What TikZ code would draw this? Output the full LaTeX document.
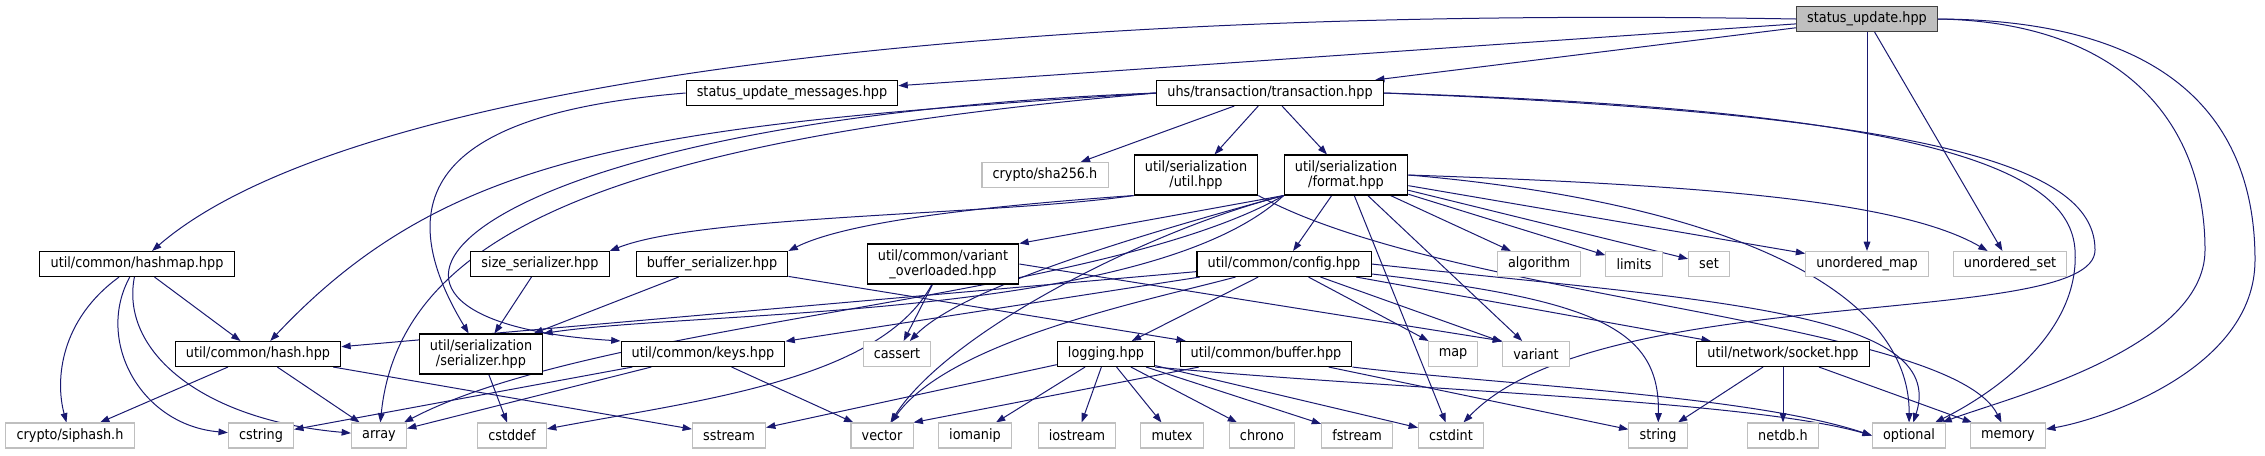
\documentclass[tikz,border=0pt]{standalone}
\usepackage{fontspec}
\setmainfont{DejaVu Sans}[FakeStretch=0.9]
\usepackage{xcolor}
\definecolor{cEdge}{HTML}{191970}
\definecolor{cMainFill}{HTML}{BFBFBF}
\definecolor{cMainDraw}{HTML}{404040}
\definecolor{cSys}{HTML}{BFBFBF}
\usepackage{tikz}
\usetikzlibrary{arrows.meta,backgrounds}
\tikzset{
  node-file/.style={draw=black,line width=0.8pt,fill=white,align=center,
    minimum height=18.75pt,inner xsep=8pt,inner ysep=2pt,
    font=\fontsize{10.7}{11.5}\selectfont},
  % 当前文件：灰底；系统头文件：浅灰边框
  node-main/.style={node-file,draw=cMainDraw,fill=cMainFill},
  node-sys/.style={node-file,draw=cSys},
  node-two/.style={minimum height=30pt},
  arrow/.style={-{Triangle[length=7pt,width=5pt]},line width=0.75pt,draw=cEdge},
}

\begin{document}
\begin{tikzpicture}[x=0.75pt,y=-0.75pt]
  \useasboundingbox (0,0) rectangle (2265,455);
  \node[node-main]          (su)       at (1867,19)    {status\_update.hpp};
  \node[node-file]          (sum)      at (792,93)     {status\_update\_messages.hpp};
  \node[node-file]          (tx)       at (1270,93)    {uhs/transaction/transaction.hpp};
  \node[node-sys]           (sha)      at (1045,175)   {crypto/sha256.h};
  \node[node-file,node-two] (sutil)    at (1196,175)   {util/serialization\\/util.hpp};
  \node[node-file,node-two] (fmt)      at (1346,175)   {util/serialization\\/format.hpp};
  \node[node-file]          (hmap)     at (137,264)    {util/common/hashmap.hpp};
  \node[node-file]          (sizes)    at (540,264)    {size\_serializer.hpp};
  \node[node-file]          (bufs)     at (712,264)    {buffer\_serializer.hpp};
  \node[node-file,node-two] (vov)      at (943,264)    {util/common/variant\\\_overloaded.hpp};
  \node[node-file]          (cfg)      at (1284,264)   {util/common/config.hpp};
  \node[node-sys]           (alg)      at (1539,264)   {algorithm};
  \node[node-sys]           (lim)      at (1634,264)   {limits};
  \node[node-sys]           (stdset)   at (1709,264)   {set};
  \node[node-sys]           (umap)     at (1867,264)   {unordered\_map};
  \node[node-sys]           (uset)     at (2010,264)   {unordered\_set};
  \node[node-file]          (hash)     at (258,354)    {util/common/hash.hpp};
  \node[node-file,node-two] (ser)      at (481,354)    {util/serialization\\/serializer.hpp};
  \node[node-file]          (keys)     at (703,354)    {util/common/keys.hpp};
  \node[node-sys]           (cassert)  at (897,354)    {cassert};
  \node[node-file]          (log)      at (1106,354)   {logging.hpp};
  \node[node-file]          (buf)      at (1266,354)   {util/common/buffer.hpp};
  \node[node-sys]           (map)      at (1453,354)   {map};
  \node[node-sys]           (variant)  at (1536,354)   {variant};
  \node[node-file]          (sock)     at (1783,354)   {util/network/socket.hpp};
  \node[node-sys]           (siphash)  at (70,435.5)   {crypto/siphash.h};
  \node[node-sys]           (cstring)  at (261,435.5)  {cstring};
  \node[node-sys]           (array)    at (379,435.5)  {array};
  \node[node-sys]           (cstddef)  at (512,435.5)  {cstddef};
  \node[node-sys]           (sstream)  at (729,435.5)  {sstream};
  \node[node-sys]           (vector)   at (882,435.5)  {vector};
  \node[node-sys]           (iomanip)  at (975,435.5)  {iomanip};
  \node[node-sys]           (iostream) at (1077,435.5) {iostream};
  \node[node-sys]           (mutex)    at (1172,435.5) {mutex};
  \node[node-sys]           (chrono)   at (1262,435.5) {chrono};
  \node[node-sys]           (fstream)  at (1357,435.5) {fstream};
  \node[node-sys]           (cstdint)  at (1451,435.5) {cstdint};
  \node[node-sys]           (string)   at (1658,435.5) {string};
  \node[node-sys]           (netdb)    at (1783,435.5) {netdb.h};
  \node[node-sys]           (optional) at (1909,435.5) {optional};
  \node[node-sys]           (memory)   at (2008,435.5) {memory};
  \begin{pgfonlayer}{background}
  % status_update.hpp
  \draw[arrow] (su) -- (sum);
  \draw[arrow] (su) -- (tx);
  \draw[arrow] (su.west) .. controls (1000,5) and (350,80) .. (hmap);
  \draw[arrow] (su) -- (umap);
  \draw[arrow] (su) -- (uset);
  \draw[arrow] (su.east) .. controls (2120,22) and (2205,120) .. (2205,250) .. controls (2205,350) and (2000,400) .. (optional);
  \draw[arrow] (su.east) .. controls (2170,20) and (2255,120) .. (2255,260) .. controls (2255,370) and (2100,420) .. (memory);
  \draw[arrow] (sum.west) .. controls (480,110) and (370,170) .. (ser);
  % transaction.hpp
  \draw[arrow] (tx) -- (sha);
  \draw[arrow] (tx) -- (sutil);
  \draw[arrow] (tx) -- (fmt);
  \draw[arrow] (tx.west) .. controls (650,125) and (450,150) .. (hash);
  \draw[arrow] (tx.west) .. controls (450,120) and (280,320) .. (keys.north west);
  \draw[arrow] (tx.west) .. controls (620,140) and (400,230) .. (array);
  \draw[arrow] (tx.east) .. controls (1950,115) and (2095,170) .. (2095,250) .. controls (2095,330) and (1600,280) .. (cstdint);
  \draw[arrow] (tx.east) .. controls (1930,110) and (2070,170) .. (2075,250) .. controls (2080,330) and (2000,390) .. (optional);
  % util.hpp / format.hpp
  \draw[arrow] (sutil.south west) .. controls (1000,215) and (700,215) .. (sizes.north east);
  \draw[arrow] (sutil.south west) .. controls (1000,205) and (850,220) .. (bufs.north east);
  \draw[arrow] (sutil.south east) .. controls (1450,300) and (1950,320) .. (memory);
  \draw[arrow] (fmt.south west) .. controls (1150,320) and (700,310) .. (ser.north east);
  \draw[arrow] (fmt.south west) -- (vov.north east);
  \draw[arrow] (fmt) -- (cfg);
  \draw[arrow] (fmt) -- (alg);
  \draw[arrow] (fmt) -- (lim);
  \draw[arrow] (fmt) -- (stdset);
  \draw[arrow] (fmt) -- (umap);
  \draw[arrow] (fmt.east) .. controls (1700,185) and (1900,200) .. (uset);
  \draw[arrow] (fmt) -- (variant);
  \draw[arrow] (fmt.south west) .. controls (1150,230) and (950,330) .. (vector);
  \draw[arrow] (fmt.south west) .. controls (1120,240) and (960,290) .. (cassert);
  \draw[arrow] (fmt) -- (cstdint);
  \draw[arrow] (fmt.south west) .. controls (1100,300) and (600,320) .. (array);
  \draw[arrow] (fmt.east) .. controls (1700,200) and (1910,280) .. (optional);
  % hashmap.hpp / hash.hpp
  \draw[arrow] (hmap) .. controls (60,320) and (55,380) .. (siphash);
  \draw[arrow] (hmap) .. controls (95,340) and (140,425) .. (cstring);
  \draw[arrow] (hmap) .. controls (120,350) and (200,420) .. (array);
  \draw[arrow] (hmap) -- (hash);
  \draw[arrow] (hash) -- (siphash);
  \draw[arrow] (hash) -- (array);
  \draw[arrow] (hash) -- (sstream);
  % serializer
  \draw[arrow] (sizes) -- (ser);
  \draw[arrow] (bufs) -- (ser);
  \draw[arrow] (bufs) -- (buf);
  \draw[arrow] (ser) -- (cstddef);
  \draw[arrow] (keys) -- (cstring);
  \draw[arrow] (keys) -- (array);
  \draw[arrow] (keys) -- (vector);
  \draw[arrow] (vov) -- (cassert);
  \draw[arrow] (vov) .. controls (880,380) and (700,400) .. (cstddef);
  \draw[arrow] (vov.east) -- (variant.north west);
  % config.hpp
  \draw[arrow] (cfg) -- (hash);
  \draw[arrow] (cfg) -- (keys);
  \draw[arrow] (cfg) -- (log);
  \draw[arrow] (cfg) -- (map);
  \draw[arrow] (cfg) -- (variant);
  \draw[arrow] (cfg) -- (sock);
  \draw[arrow] (cfg) .. controls (1150,300) and (950,340) .. (vector);
  \draw[arrow] (cfg) .. controls (1600,300) and (1660,330) .. (string);
  \draw[arrow] (cfg.east) .. controls (1700,300) and (1950,310) .. (optional);
  % logging.hpp / buffer.hpp / socket.hpp
  \draw[arrow] (log) -- (sstream);
  \draw[arrow] (log) -- (iomanip);
  \draw[arrow] (log) -- (iostream);
  \draw[arrow] (log) -- (mutex);
  \draw[arrow] (log) -- (chrono);
  \draw[arrow] (log) -- (fstream);
  \draw[arrow] (log) -- (cstdint);
  \draw[arrow] (log.south east) .. controls (1400,390) and (1750,400) .. (optional.west);
  \draw[arrow] (buf) -- (vector.north east);
  \draw[arrow] (buf) -- (string);
  \draw[arrow] (buf.south east) .. controls (1500,385) and (1750,395) .. (optional.west);
  \draw[arrow] (sock) -- (string);
  \draw[arrow] (sock) -- (netdb);
  \draw[arrow] (sock) -- (memory);
  \end{pgfonlayer}
\end{tikzpicture}
\end{document}
